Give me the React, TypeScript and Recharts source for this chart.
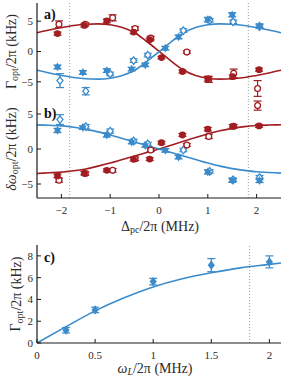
import React from 'react';
import { ComposedChart, Line, Scatter, XAxis, YAxis, ErrorBar, ReferenceLine } from 'recharts';

const FONT = '"Liberation Serif", "DejaVu Serif", serif';
const RED = '#a11d21';
const BLUE = '#3b8bcb';
const AX = '#1a1a1a';
const TXT = '#2a2a2a';

// ---- shared axes data ----
const deltaTicks = [-2, -1, 0, 1, 2];
const gammaTicks = [-5, 0, 5];
const deltaOmegaTicks = [-5, 0, 5];
const omegaTicks = [0, 0.5, 1, 1.5, 2];
const gammaCTicks = [0, 2, 4, 6, 8];
const cutoffAB = [-1.83, 1.83];
const cutoffC = [1.83];

// ---- fit curves ----
const deltaGrid = [-2.5, -2.25, -2, -1.75, -1.5, -1.25, -1, -0.75, -0.5, -0.25, 0, 0.25, 0.5, 0.75, 1, 1.25, 1.5, 1.75, 2, 2.25, 2.5];
const gammaRedFit = [3.1, 3.55, 3.95, 4.3, 4.5, 4.55, 4.4, 3.95, 3.1, 1.65, 0.05, -1.6, -3.05, -3.95, -4.4, -4.55, -4.5, -4.3, -3.95, -3.55, -3.1];
const gammaBlueFit = [-3.1, -3.55, -3.95, -4.3, -4.5, -4.55, -4.4, -3.95, -3.1, -1.65, -0.05, 1.6, 3.05, 3.95, 4.4, 4.55, 4.5, 4.3, 3.95, 3.55, 3.1];
const dOmegaRedFit = [-3.5, -3.4, -3.3, -3.1, -2.85, -2.45, -2.0, -1.5, -1.0, -0.5, 0, 0.55, 1.1, 1.65, 2.15, 2.6, 2.95, 3.2, 3.35, 3.42, 3.46];
const dOmegaBlueFit = [3.45, 3.4, 3.3, 3.1, 2.8, 2.45, 2.0, 1.5, 1.0, 0.5, 0.0, -0.5, -1.0, -1.5, -2.0, -2.45, -2.8, -3.05, -3.25, -3.35, -3.45];
const omegaGrid = [0, 0.25, 0.5, 0.75, 1, 1.25, 1.5, 1.75, 2, 2.1];
const gammaCFit = [0, 1.5, 2.95, 4.15, 5.15, 5.9, 6.45, 6.9, 7.22, 7.35];

// ---- measured points ----
const redFilledX = [-2.08, -1.53, -1.07, -0.52, -0.19, 0.05, 0.48, 1.0, 1.51, 2.05];
const redFilledGamma = [2.95, 4.3, 5.05, 3.2, 1.95, -1.0, -3.3, -4.5, -4.15, -3.0];
const redFilledGammaErr = [0.25, 0.25, 0.3, 0.25, 0.25, 0.2, 0.25, 0.4, 0.3, 0.25];
const redFilledDOmega = [-3.85, -3.45, -3.05, -1.47, -1.44, 0.9, 2.0, 2.83, 3.22, 3.3];
const redFilledDOmegaErr = [0.25, 0.25, 0.2, 0.25, 0.2, 0.2, 0.2, 0.25, 0.25, 0.2];

const redOpenX = [-2.05, -1.51, -0.95, -0.49, -0.17, 0.57, 1.02, 1.53, 2.02];
const redOpenGamma = [4.5, 4.5, 5.55, 3.8, 2.2, -0.1, -4.6, -3.6, -6.1];
const redOpenGammaErr = [0.55, 0.25, 0.5, 0.3, 0.3, 0.2, 0.5, 0.7, 1.3];
const redOpenDOmega = [-4.45, -3.5, -3.05, -1.4, -0.15, 0.58, 1.8, 3.25, 6.2];
const redOpenDOmegaErr = [0.3, 0.25, 0.25, 0.25, 0.2, 0.2, 0.3, 0.25, 0.65];

const blueFilledX = [-2.08, -1.56, -1.07, -0.56, -0.28, 0.13, 0.4, 1.0, 1.5, 2.06];
const blueFilledGamma = [-2.55, -3.45, -3.15, -2.9, -2.2, 0.55, 2.4, 5.25, 6.05, 4.25];
const blueFilledGammaErr = [0.3, 0.3, 0.3, 0.3, 0.3, 0.3, 0.3, 0.4, 0.35, 0.3];
const blueFilledDOmega = [2.65, 3.05, 2.0, 1.0, 0.5, -0.2, -1.15, -3.27, -4.47, -4.5];
const blueFilledDOmegaErr = [0.3, 0.25, 0.3, 0.25, 0.25, 0.25, 0.25, 0.3, 0.3, 0.3];

const blueOpenX = [-2.03, -1.5, -1.0, -0.52, -0.23, 0.5, 1.04, 1.52, 2.06];
const blueOpenGamma = [-4.8, -6.55, -3.7, -1.5, -0.6, 3.45, 5.15, 4.9, 4.1];
const blueOpenGammaErr = [1.15, 0.6, 0.3, 0.3, 0.3, 0.3, 0.3, 0.3, 0.3];
const blueOpenDOmega = [4.2, 3.2, 2.55, 1.15, 0.72, -0.14, -3.2, -4.4, -4.08];
const blueOpenDOmegaErr = [0.7, 0.3, 0.3, 0.25, 0.25, 0.25, 0.25, 0.25, 0.3];

const omegaX = [0.25, 0.5, 1.0, 1.5, 2.0];
const gammaC = [1.17, 3.04, 5.64, 7.15, 7.45];
const gammaCErr = [0.25, 0.25, 0.3, 0.6, 0.55];

const curve = (xs: number[], ys: number[]) => xs.map((x, i) => ({ x, y: ys[i] }));
const pts = (xs: number[], ys: number[], es: number[]) => xs.map((x, i) => ({ x, y: ys[i], e: es[i] }));

const fmt = (v: number) => (v < 0 ? '\u2212' + String(Math.abs(v)) : String(v));

// ---- marker shapes ----
const RedDot = (p: any) => <circle cx={p.cx} cy={p.cy} r={3.4} fill={RED} />;
const RedRing = (p: any) => (
  <circle cx={p.cx} cy={p.cy} r={2.9} fill="#fff" stroke={RED} strokeWidth={1.3} />
);
const BlueStar = (p: any) => {
  const { cx, cy } = p;
  const r = 4.4;
  const tri = (a0: number) =>
    [0, 1, 2]
      .map((k) => {
        const a = ((a0 + k * 120) * Math.PI) / 180;
        return `${cx + r * Math.cos(a)},${cy + r * Math.sin(a)}`;
      })
      .join(' ');
  return (
    <g>
      <polygon points={tri(-90)} fill={BLUE} />
      <polygon points={tri(90)} fill={BLUE} />
    </g>
  );
};
const BlueDiamond = (p: any) => (
  <polygon
    points={`${p.cx},${p.cy - 3.8} ${p.cx + 3},${p.cy} ${p.cx},${p.cy + 3.8} ${p.cx - 3},${p.cy}`}
    fill="#fff"
    stroke={BLUE}
    strokeWidth={1.3}
  />
);
const BlueSolidDiamond = (p: any) => (
  <polygon
    points={`${p.cx},${p.cy - 4.6} ${p.cx + 3.6},${p.cy} ${p.cx},${p.cy + 4.6} ${p.cx - 3.6},${p.cy}`}
    fill={BLUE}
  />
);

const tickStyle = { fontFamily: FONT, fontSize: 11, fill: TXT };
const axisLine = { stroke: AX, strokeWidth: 1.2 };
const tickLine = { stroke: AX, strokeWidth: 1 };

const mirrorAxes = (xDomain: number[], xTicks: number[], yDomain: number[], yTicks: number[]) => [
  <XAxis
    key="xt"
    xAxisId="top"
    orientation="top"
    type="number"
    dataKey="x"
    domain={xDomain}
    ticks={xTicks}
    allowDataOverflow
    height={0}
    tick={false}
    tickSize={-4}
    axisLine={axisLine}
    tickLine={tickLine}
  />,
  <YAxis
    key="yr"
    yAxisId="right"
    orientation="right"
    type="number"
    dataKey="y"
    domain={yDomain}
    ticks={yTicks}
    allowDataOverflow
    width={0}
    tick={false}
    tickSize={-4}
    axisLine={axisLine}
    tickLine={tickLine}
  />,
];

const series = (
  red: { x: number; y: number }[],
  blue: { x: number; y: number }[],
  rf: any[],
  ro: any[],
  bf: any[],
  bo: any[]
) => [
  <Line key="lr" data={red} dataKey="y" type="monotone" stroke={RED} strokeWidth={1.6} dot={false} isAnimationActive={false} />,
  <Line key="lb" data={blue} dataKey="y" type="monotone" stroke={BLUE} strokeWidth={1.6} dot={false} isAnimationActive={false} />,
  <Scatter key="bo" data={bo} dataKey="y" shape={BlueDiamond} isAnimationActive={false}>
    <ErrorBar dataKey="e" direction="y" width={4} stroke={BLUE} strokeWidth={1.2} />
  </Scatter>,
  <Scatter key="bf" data={bf} dataKey="y" shape={BlueStar} isAnimationActive={false}>
    <ErrorBar dataKey="e" direction="y" width={4} stroke={BLUE} strokeWidth={1.2} />
  </Scatter>,
  <Scatter key="ro" data={ro} dataKey="y" shape={RedRing} isAnimationActive={false}>
    <ErrorBar dataKey="e" direction="y" width={4} stroke={RED} strokeWidth={1.2} />
  </Scatter>,
  <Scatter key="rf" data={rf} dataKey="y" shape={RedDot} isAnimationActive={false}>
    <ErrorBar dataKey="e" direction="y" width={4} stroke={RED} strokeWidth={1.2} />
  </Scatter>,
];

const YTitle = ({ x, y, children }: any) => (
  <text
    x={x}
    y={y}
    transform={`rotate(-90 ${x} ${y})`}
    textAnchor="middle"
    dominantBaseline="central"
    fontFamily={FONT}
    fontSize={14}
    fill={TXT}
  >
    {children}
  </text>
);

const PanelLabel = ({ x, y, children }: any) => (
  <text x={x} y={y} fontFamily={FONT} fontSize={14} fontWeight="bold" fill="#111">
    {children}
  </text>
);

export default function App() {
  const dDomain = [-2.5, 2.5];
  return (
    <div style={{ position: 'absolute', left: 0, top: 0, width: 285, height: 381, background: '#fff' }}>
      {/* Panel a */}
      <div style={{ position: 'absolute', left: 0, top: 0 }}>
        <ComposedChart width={285} height={102} margin={{ top: 3, right: 4, bottom: 2, left: 0 }}>
          <XAxis
            type="number"
            dataKey="x"
            domain={dDomain}
            ticks={deltaTicks}
            allowDataOverflow
            height={0}
            tick={false}
            tickSize={-4}
            axisLine={axisLine}
            tickLine={tickLine}
          />
          <YAxis
            type="number"
            dataKey="y"
            domain={[-8, 8]}
            ticks={gammaTicks}
            allowDataOverflow
            width={37}
            tickSize={-4}
            tickMargin={8}
            tick={tickStyle}
            tickFormatter={fmt}
            axisLine={axisLine}
            tickLine={tickLine}
          />
          {mirrorAxes(dDomain, deltaTicks, [-8, 8], gammaTicks)}
          {cutoffAB.map((c) => (
            <ReferenceLine key={c} x={c} stroke="#9a9a9a" strokeWidth={1} strokeDasharray="1 2" />
          ))}
          {series(
            curve(deltaGrid, gammaRedFit),
            curve(deltaGrid, gammaBlueFit),
            pts(redFilledX, redFilledGamma, redFilledGammaErr),
            pts(redOpenX, redOpenGamma, redOpenGammaErr),
            pts(blueFilledX, blueFilledGamma, blueFilledGammaErr),
            pts(blueOpenX, blueOpenGamma, blueOpenGammaErr)
          )}
          <PanelLabel x={44} y={19}>a)</PanelLabel>
          <YTitle x={11} y={51.5}>
            Γ<tspan dy={3} fontSize={10}>opt</tspan>
            <tspan dy={-3}>/2π (kHz)</tspan>
          </YTitle>
        </ComposedChart>
      </div>

      {/* Panel b */}
      <div style={{ position: 'absolute', left: 0, top: 98 }}>
        <ComposedChart width={285} height={142} margin={{ top: 2, right: 4, bottom: 0, left: 0 }}>
          <XAxis
            type="number"
            dataKey="x"
            domain={dDomain}
            ticks={deltaTicks}
            allowDataOverflow
            height={42}
            tickSize={-4}
            tickMargin={12}
            tick={tickStyle}
            tickFormatter={fmt}
            axisLine={axisLine}
            tickLine={tickLine}
          />
          <YAxis
            type="number"
            dataKey="y"
            domain={[-7, 7]}
            ticks={deltaOmegaTicks}
            allowDataOverflow
            width={37}
            tickSize={-4}
            tickMargin={8}
            tick={tickStyle}
            tickFormatter={fmt}
            axisLine={axisLine}
            tickLine={tickLine}
          />
          {mirrorAxes(dDomain, deltaTicks, [-7, 7], deltaOmegaTicks)}
          {cutoffAB.map((c) => (
            <ReferenceLine key={c} x={c} stroke="#9a9a9a" strokeWidth={1} strokeDasharray="1 2" />
          ))}
          {series(
            curve(deltaGrid, dOmegaRedFit),
            curve(deltaGrid, dOmegaBlueFit),
            pts(redFilledX, redFilledDOmega, redFilledDOmegaErr),
            pts(redOpenX, redOpenDOmega, redOpenDOmegaErr),
            pts(blueFilledX, blueFilledDOmega, blueFilledDOmegaErr),
            pts(blueOpenX, blueOpenDOmega, blueOpenDOmegaErr)
          )}
          <PanelLabel x={44} y={20}>b)</PanelLabel>
          <YTitle x={11} y={51}>
            <tspan fontStyle="italic">δω</tspan>
            <tspan dy={3} fontSize={10}>opt</tspan>
            <tspan dy={-3}>/2π (kHz)</tspan>
          </YTitle>
          <text x={160} y={128} textAnchor="middle" dominantBaseline="central" fontFamily={FONT} fontSize={14} fill={TXT}>
            Δ<tspan dy={3} fontSize={10}>pc</tspan>
            <tspan dy={-3}>/2π (MHz)</tspan>
          </text>
        </ComposedChart>
      </div>

      {/* Panel c */}
      <div style={{ position: 'absolute', left: 0, top: 243 }}>
        <ComposedChart width={285} height={138} margin={{ top: 2, right: 4, bottom: 0, left: 0 }}>
          <XAxis
            type="number"
            dataKey="x"
            domain={[0, 2.1]}
            ticks={omegaTicks}
            allowDataOverflow
            height={38}
            tickSize={-4}
            tickMargin={12}
            tick={tickStyle}
            axisLine={axisLine}
            tickLine={tickLine}
          />
          <YAxis
            type="number"
            dataKey="y"
            domain={[0, 9]}
            ticks={gammaCTicks}
            allowDataOverflow
            width={37}
            tickSize={-4}
            tickMargin={8}
            tick={tickStyle}
            axisLine={axisLine}
            tickLine={tickLine}
          />
          {mirrorAxes([0, 2.1], omegaTicks, [0, 9], gammaCTicks)}
          {cutoffC.map((c) => (
            <ReferenceLine key={c} x={c} stroke="#9a9a9a" strokeWidth={1} strokeDasharray="1 2" />
          ))}
          <Line data={curve(omegaGrid, gammaCFit)} dataKey="y" type="monotone" stroke={BLUE} strokeWidth={1.6} dot={false} isAnimationActive={false} />
          <Scatter data={pts(omegaX, gammaC, gammaCErr)} dataKey="y" shape={BlueSolidDiamond} isAnimationActive={false}>
            <ErrorBar dataKey="e" direction="y" width={4} stroke={BLUE} strokeWidth={1.2} />
          </Scatter>
          <PanelLabel x={44} y={19}>c)</PanelLabel>
          <YTitle x={15.5} y={51}>
            Γ<tspan dy={3} fontSize={10}>opt</tspan>
            <tspan dy={-3}>/2π (kHz)</tspan>
          </YTitle>
          <text x={155} y={125} textAnchor="middle" dominantBaseline="central" fontFamily={FONT} fontSize={14} fill={TXT}>
            <tspan fontStyle="italic">ω</tspan>
            <tspan dy={3} fontSize={10} fontStyle="italic">L</tspan>
            <tspan dy={-3}>/2π (MHz)</tspan>
          </text>
        </ComposedChart>
      </div>
    </div>
  );
}
